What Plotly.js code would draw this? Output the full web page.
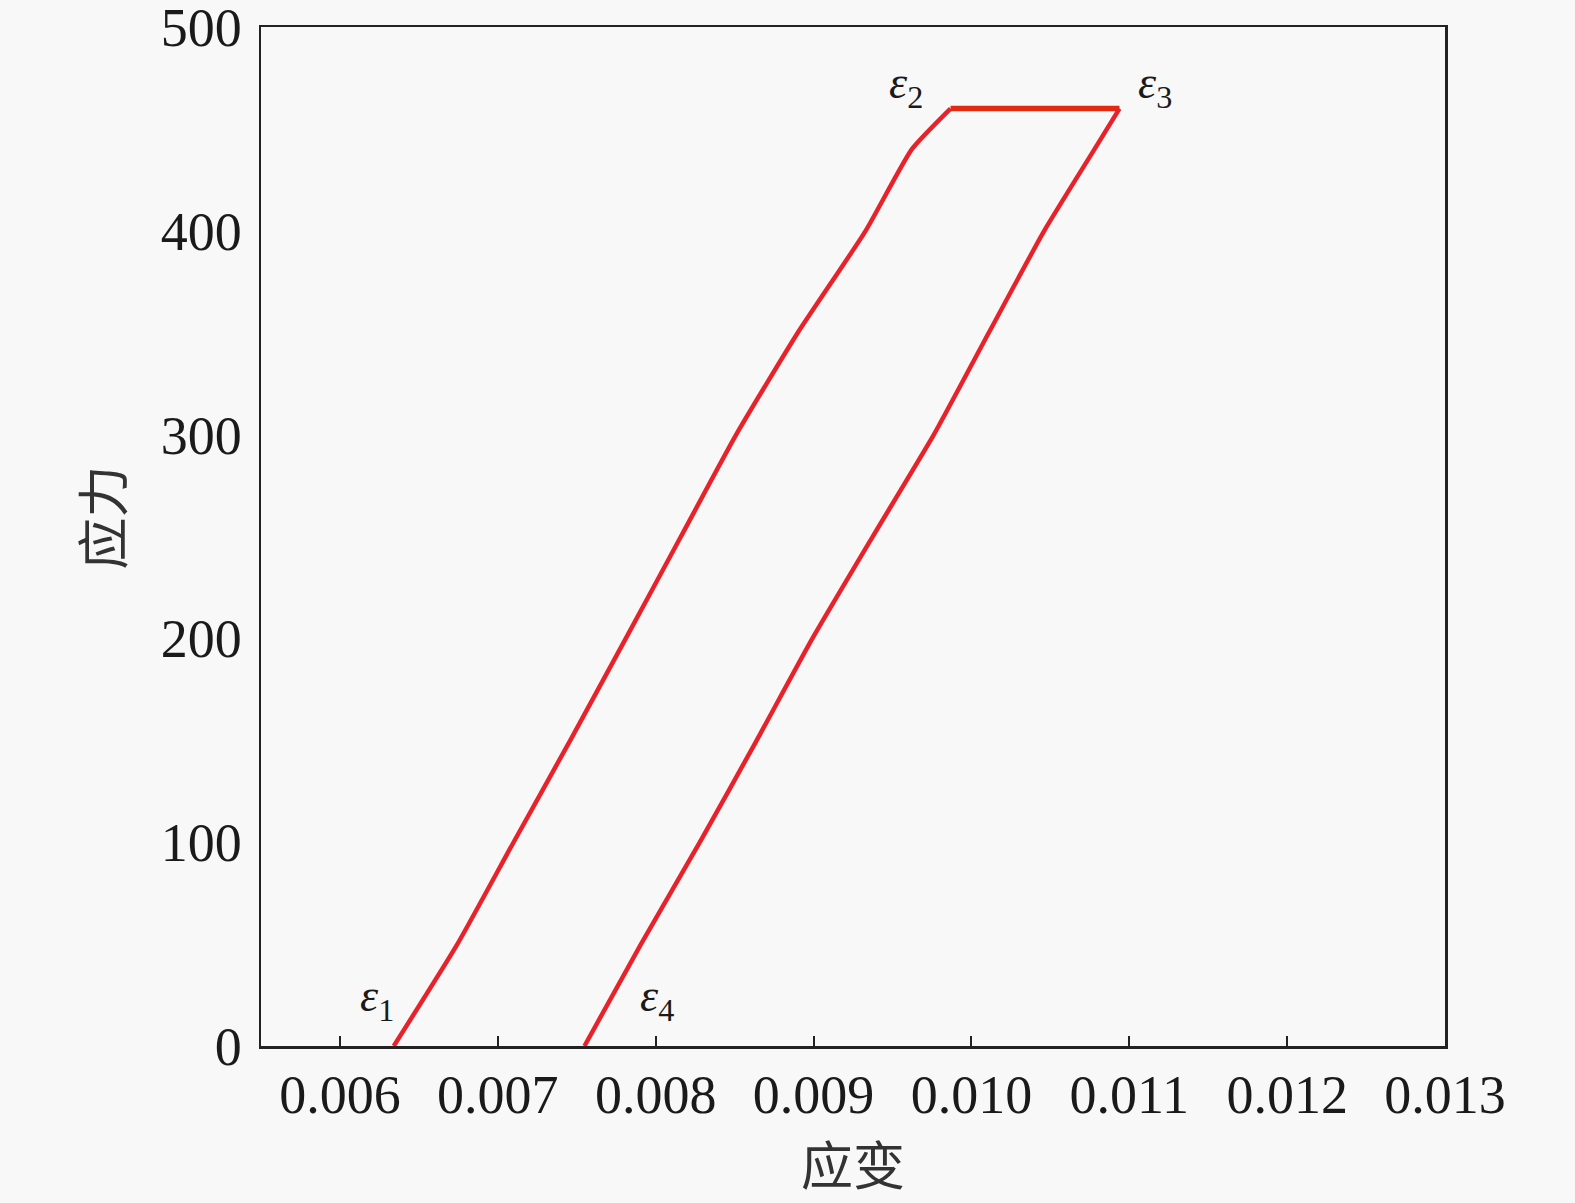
<!DOCTYPE html>
<html>
<head>
<meta charset="utf-8">
<script src="https://cdn.plot.ly/plotly-3.0.1.min.js"></script>
<style>
  html, body { margin: 0; padding: 0; background: #f8f8f8; }
  #chart { width: 1575px; height: 1203px; }
</style>
</head>
<body>
<div id="chart"></div>
<script>
// Loading branch (ε1 -> ε2)
const loadStrain = [0.006341, 0.006744, 0.007100, 0.007459, 0.007811, 0.008160, 0.008510, 0.008900, 0.009330, 0.009622, 0.009868];
const loadStress = [0, 50, 100, 150, 200, 250, 300, 350, 400, 440, 460];
// Holding branch (ε2 -> ε3)
const holdStrain = [0.009868, 0.010938];
const holdStress = [460, 460];
// Unloading branch (ε3 -> ε4)
const unloadStrain = [0.010938, 0.010779, 0.010461, 0.010110, 0.009762, 0.009375, 0.008993, 0.008640, 0.008280, 0.007907, 0.007549];
const unloadStress = [460, 440, 400, 350, 300, 250, 200, 150, 100, 50, 0];

const xTicks = [0.006, 0.007, 0.008, 0.009, 0.010, 0.011, 0.012, 0.013];
const yTicks = [0, 100, 200, 300, 400, 500];

const pointLabels = ['<i>ε</i><sub>1</sub>', '<i>ε</i><sub>2</sub>', '<i>ε</i><sub>3</sub>', '<i>ε</i><sub>4</sub>'];
const labelX = [0.006235, 0.009584, 0.011160, 0.008008];
const labelY = [23, 471, 471, 23];

const serif = 'Liberation Serif, Times New Roman, serif';
const cjk = 'Noto Sans CJK SC, sans-serif';
const red = '#e8222a';

const traces = [
  { x: loadStrain, y: loadStress, mode: 'lines', line: { color: red, width: 4.5, shape: 'spline', smoothing: 0.5 }, hoverinfo: 'skip' },
  { x: holdStrain, y: holdStress, mode: 'lines', line: { color: '#e22a12', width: 5.5 }, hoverinfo: 'skip' },
  { x: unloadStrain, y: unloadStress, mode: 'lines', line: { color: red, width: 4.5, shape: 'spline', smoothing: 0.5 }, hoverinfo: 'skip' }
];

const annotations = pointLabels.map((t, i) => ({
  x: labelX[i], y: labelY[i], xref: 'x', yref: 'y',
  text: t, showarrow: false,
  font: { family: serif, size: 46, color: '#1a1a1a' }
}));
annotations.push({
  xref: 'paper', yref: 'paper', x: -0.1356, y: 0.519,
  xanchor: 'center', yanchor: 'middle', textangle: -90,
  text: '应力', showarrow: false,
  font: { family: cjk, size: 52, color: '#333' }
});

const layout = {
  width: 1575, height: 1203,
  paper_bgcolor: '#f8f8f8', plot_bgcolor: '#f8f8f8',
  margin: { l: 261, r: 130, t: 27, b: 157 },
  showlegend: false,
  xaxis: {
    range: [0.0055, 0.013],
    tickvals: xTicks,
    ticktext: xTicks.map(v => v.toFixed(3)),
    ticks: 'inside', ticklen: 10, tickwidth: 2, tickcolor: '#222',
    ticklabeloverflow: 'allow',
    showgrid: false, zeroline: false,
    showline: true, linecolor: '#222', linewidth: 2.5, mirror: true,
    tickfont: { family: serif, size: 54, color: '#1a1a1a' },
    title: { text: '应变', font: { family: cjk, size: 52, color: '#333' }, standoff: 22 }
  },
  yaxis: {
    range: [0, 500.05],
    tickvals: yTicks,
    ticks: '',
    ticklabelstandoff: 6,
    ticklabeloverflow: 'allow',
    showgrid: false, zeroline: false,
    showline: true, linecolor: '#222', linewidth: 2.5, mirror: true,
    tickfont: { family: serif, size: 54, color: '#1a1a1a' }
  },
  annotations: annotations
};

Plotly.newPlot('chart', traces, layout, { displayModeBar: false, staticPlot: true });
</script>
</body>
</html>
